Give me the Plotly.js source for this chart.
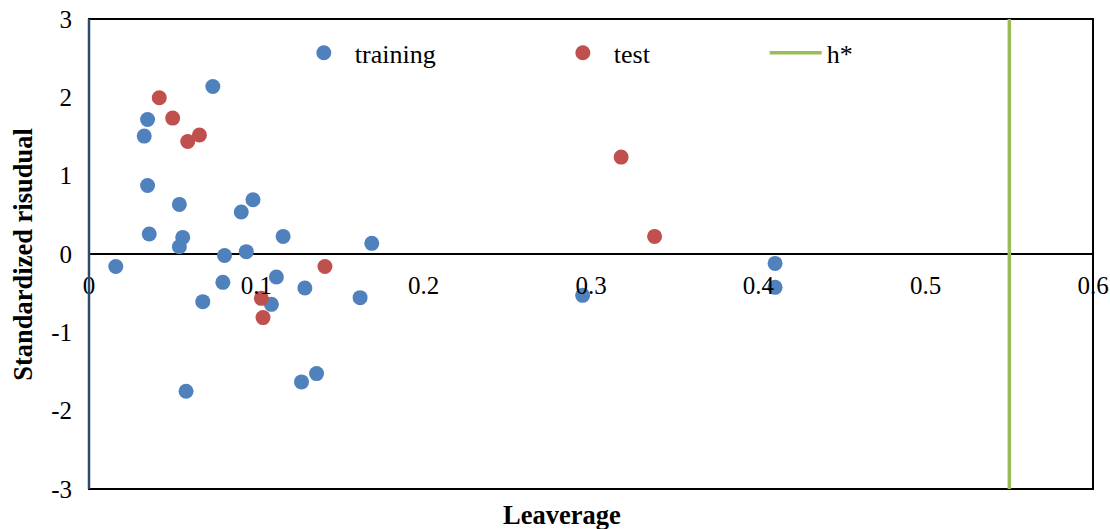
<!DOCTYPE html>
<html>
<head>
<meta charset="utf-8">
<script src="https://cdn.plot.ly/plotly-3.0.1.min.js"></script>
<style>html,body{margin:0;padding:0;background:#fff}#chart{width:1110px;height:529px}</style>
</head>
<body>
<div id="chart"></div>
<script>
// Training set: leverage and standardized residual
const trainLeverage = [0.016, 0.033, 0.035, 0.035, 0.036, 0.054, 0.054, 0.056, 0.058, 0.068,
  0.074, 0.080, 0.081, 0.091, 0.094, 0.098, 0.109, 0.112, 0.116, 0.127, 0.129, 0.136, 0.162,
  0.169, 0.295, 0.410, 0.410];
const trainResidual = [-0.16, 1.505, 1.717, 0.875, 0.255, 0.633, 0.093, 0.212, -1.752, -0.608,
  2.138, -0.362, -0.02, 0.536, 0.03, 0.693, -0.643, -0.293, 0.225, -1.633, -0.434, -1.527, -0.557,
  0.136, -0.528, -0.12, -0.426];
// Test set
const testLeverage = [0.042, 0.050, 0.059, 0.066, 0.103, 0.104, 0.141, 0.318, 0.338];
const testResidual = [1.994, 1.735, 1.436, 1.52, -0.566, -0.812, -0.16, 1.237, 0.225];
// Warning leverage h*
const hStar = [0.55, 0.55];
const hStarY = [-3, 3];
const xTicks = [0, 0.1, 0.2, 0.3, 0.4, 0.5, 0.6];
const yTicks = [-3, -2, -1, 0, 1, 2, 3];
const xTitle = 'Leaverage';
const yTitle = 'Standardized risudual';

const serif = '"Liberation Serif", "Times New Roman", serif';
const traces = [
  {x: trainLeverage, y: trainResidual, type: 'scatter', mode: 'markers', name: 'training',
   marker: {color: '#4f81bd', size: 15}, legend: 'legend'},
  {x: testLeverage, y: testResidual, type: 'scatter', mode: 'markers', name: 'test',
   marker: {color: '#c0504d', size: 15}, legend: 'legend2'},
  {x: hStar, y: hStarY, type: 'scatter', mode: 'lines', name: 'h*',
   line: {color: '#9bbb59', width: 3.5}, legend: 'legend3'}
];
const legendBase = {orientation: 'h', yanchor: 'middle', xanchor: 'left', bgcolor: 'rgba(0,0,0,0)',
  itemwidth: 52, font: {family: serif, size: 26, color: '#000'}};
const layout = {
  width: 1110, height: 529,
  margin: {l: 89, r: 16.5, t: 19, b: 39.5},
  paper_bgcolor: '#fff', plot_bgcolor: '#fff',
  showlegend: true,
  legend: Object.assign({}, legendBase, {x: 0.203, y: 0.928}),
  legend2: Object.assign({}, legendBase, {x: 0.461, y: 0.928}),
  legend3: Object.assign({}, legendBase, {x: 0.673, y: 0.928}),
  xaxis: {range: [0, 0.6], tickvals: xTicks, ticktext: xTicks.map(String), anchor: 'free', position: 0.5,
    showgrid: false, zeroline: false, showline: false, ticks: '', ticklabelstandoff: 14,
    tickfont: {family: serif, size: 25, color: '#000'}},
  yaxis: {range: [-3, 3], tickvals: yTicks, ticktext: yTicks.map(String), showgrid: false,
    zeroline: true, zerolinecolor: '#000', zerolinewidth: 2, showline: false, ticks: '',
    ticklabelstandoff: 16, tickfont: {family: serif, size: 25, color: '#000'}},
  shapes: [
    {type: 'rect', xref: 'paper', yref: 'paper', x0: 0, x1: 1, y0: 0, y1: 1,
     line: {color: '#000', width: 2}, layer: 'below'},
    {type: 'line', xref: 'paper', yref: 'paper', x0: 0, x1: 0, y0: 0, y1: 1,
     line: {color: '#2e4a6b', width: 2.5}}
  ],
  annotations: [
    {text: '<b>' + xTitle + '</b>', xref: 'paper', yref: 'paper', x: 0.471, y: -0.056,
     xanchor: 'center', yanchor: 'middle', showarrow: false, font: {family: serif, size: 26.5, color: '#000'}},
    {text: '<b>' + yTitle + '</b>', xref: 'paper', yref: 'paper', x: -0.066, y: 0.5, textangle: -90,
     xanchor: 'center', yanchor: 'middle', showarrow: false, font: {family: serif, size: 26.5, color: '#000'}}
  ]
};
Plotly.newPlot('chart', traces, layout, {displayModeBar: false, staticPlot: true});
</script>
</body>
</html>
